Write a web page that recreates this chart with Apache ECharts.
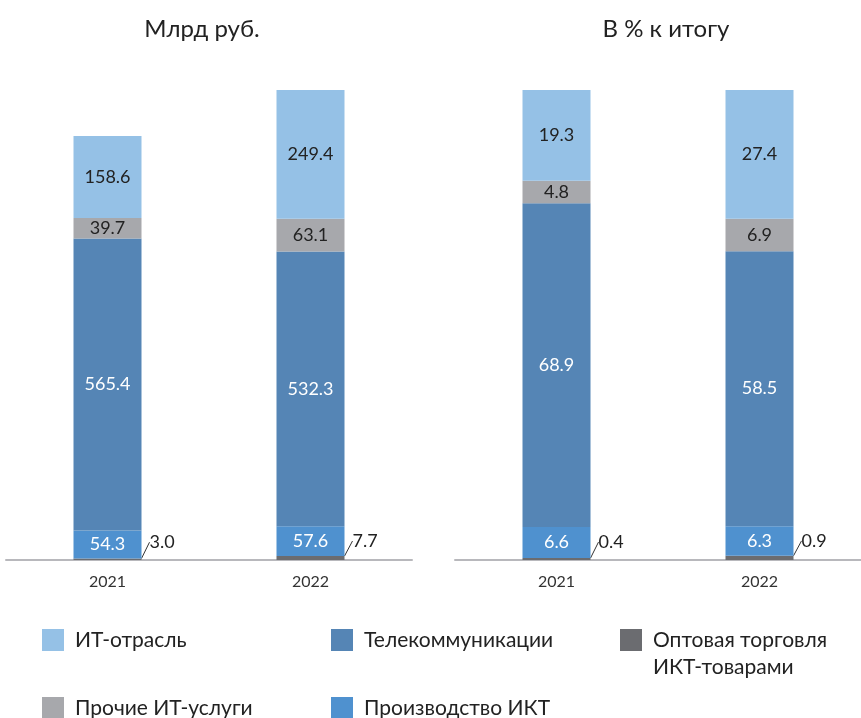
<!DOCTYPE html>
<html>
<head>
<meta charset="utf-8">
<script src="https://cdn.jsdelivr.net/npm/echarts@6/dist/echarts.min.js"></script>
<style>
  html, body { margin: 0; padding: 0; background: #fff; }
  #main { width: 861px; height: 718px; }
</style>
</head>
<body>
<div id="main"></div>
<script>
var years = ['2021', '2022'];

// млрд руб.
var optRub = [3.0, 7.7];
var prodRub = [54.3, 57.6];
var telecomRub = [565.4, 532.3];
var otherRub = [39.7, 63.1];
var itRub = [158.6, 249.4];

// % к итогу
var optPct = [0.4, 0.9];
var prodPct = [6.6, 6.3];
var telecomPct = [68.9, 58.5];
var otherPct = [4.8, 6.9];
var itPct = [19.3, 27.4];

var names = ['Оптовая торговля\nИКТ-товарами', 'Производство ИКТ', 'Телекоммуникации', 'Прочие ИТ-услуги', 'ИТ-отрасль'];
var colors = ['#6b6c70', '#4f91cf', '#5585b5', '#a7a8ac', '#95c1e6'];
var labelColors = ['#222', '#fff', '#fff', '#222', '#222'];

var font = 'Lato, "Noto Sans", sans-serif';

var totalRub = years.map(function (y, i) {
  return optRub[i] + prodRub[i] + telecomRub[i] + otherRub[i] + itRub[i];
});

function makeSeries(dataList, axisIdx) {
  return dataList.map(function (d, k) {
    var s = {
      name: names[k],
      type: 'bar',
      stack: 's' + axisIdx,
      xAxisIndex: axisIdx,
      yAxisIndex: axisIdx,
      barWidth: 68,
      data: d,
      itemStyle: { color: colors[k] },
      label: {
        show: true,
        position: 'inside',
        color: labelColors[k],
        fontFamily: font,
        fontSize: 18,
        formatter: function (p) { return p.value.toFixed(1); }
      }
    };
    if (k === 0) {
      s.label.position = 'right';
      s.label.distance = 0;
      s.labelLayout = { dx: 8, dy: -17 };
      s.labelLine = { show: true, lineStyle: { color: '#333', width: 1 }, length2: 0 };
    }
    return s;
  });
}

// позиции элементов легенды: [индекс имени, left, top]
var legendPos = [[4, 37, 624], [3, 37, 692], [2, 326, 624], [1, 326, 692]];

var legends = legendPos.map(function (p) {
  return {
    data: [names[p[0]]], left: p[1], top: p[2],
    icon: 'rect', itemWidth: 22, itemHeight: 22, selectedMode: false,
    textStyle: { color: '#222', fontFamily: font, fontSize: 21, lineHeight: 22, padding: [0, 0, 0, 6] }
  };
});
// двухстрочная подпись: квадрат на уровне первой строки
legends.push({
  data: [names[0]], left: 615, top: 622,
  icon: 'path://M0,0H22V22H0Z M0,50L0.01,50', itemWidth: 22, itemHeight: 50, selectedMode: false,
  textStyle: { color: '#222', fontFamily: font, fontSize: 21, lineHeight: 27, padding: [0, 0, 0, 6] }
});

var myChart = echarts.init(document.getElementById('main'));
var option = {
  animation: false,
  backgroundColor: '#fff',
  title: [
    { text: 'Млрд руб.', left: 197, top: 12, textAlign: 'center',
      textStyle: { fontFamily: font, fontSize: 24, fontWeight: 'normal', color: '#222' } },
    { text: 'В % к итогу', left: 661, top: 12, textAlign: 'center',
      textStyle: { fontFamily: font, fontSize: 24, fontWeight: 'normal', color: '#222' } }
  ],
  grid: [
    { left: 6, width: 406, top: 90, bottom: 158 },
    { left: 455, width: 408, top: 90, bottom: 158 }
  ],
  xAxis: [0, 1].map(function (i) {
    return {
      type: 'category',
      gridIndex: i,
      data: years,
      axisLine: { lineStyle: { color: '#b8b8bc', width: 2 } },
      axisTick: { show: false },
      axisLabel: { color: '#333', fontFamily: font, fontSize: 16, margin: 14 }
    };
  }),
  yAxis: [
    { type: 'value', gridIndex: 0, min: 0, max: Math.max.apply(null, totalRub), show: false },
    { type: 'value', gridIndex: 1, min: 0, max: 100, show: false }
  ],
  legend: legends,
  series: makeSeries([optRub, prodRub, telecomRub, otherRub, itRub], 0)
    .concat(makeSeries([optPct, prodPct, telecomPct, otherPct, itPct], 1))
};
myChart.setOption(option);
</script>
</body>
</html>
